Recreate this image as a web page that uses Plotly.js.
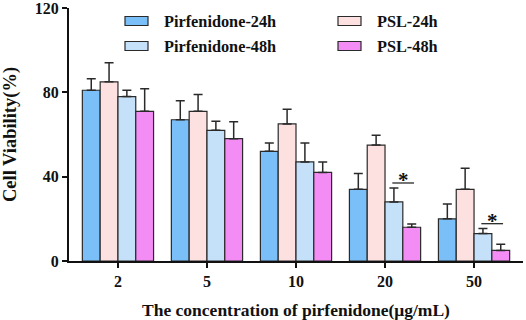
<!DOCTYPE html>
<html>
<head>
<meta charset="utf-8">
<script src="https://cdn.plot.ly/plotly-3.0.1.min.js"></script>
<style>
  body { margin: 0; background: #fff; }
  #chart { width: 526px; height: 320px; }
</style>
</head>
<body>
<div id="chart"></div>
<script>
var concentrations = ['2', '5', '10', '20', '50'];
var seriesNames = ['Pirfenidone-24h', 'PSL-24h', 'Pirfenidone-48h', 'PSL-48h'];
var seriesColors = ['#7abff7', '#fde0e0', '#c4e1f9', '#f38cf4'];

var pirf24 = [81, 67, 52, 34, 20];
var psl24 = [85, 71, 65, 55, 34];
var pirf48 = [78, 62, 47, 28, 13];
var psl48 = [71, 58, 42, 16, 5];

var pirf24Err = [5.5, 9, 4, 7.5, 7];
var psl24Err = [9, 8, 7, 4.7, 10];
var pirf48Err = [3, 4.3, 9, 6.6, 2.4];
var psl48Err = [10.7, 8, 5, 1.6, 3];

// significance marks between Pirfenidone-48h and PSL-48h
var sigCategories = [3, 4];
var sigLevels = [37, 17.7];

var chartDiv = document.getElementById('chart');
var fontFamily = '"Liberation Serif", "Times New Roman", serif';

function drawChart() {
    let values = [pirf24, psl24, pirf48, psl48];
    let errors = [pirf24Err, psl24Err, pirf48Err, psl48Err];
    let plotData = [];
    for (let ii = 0; ii < values.length; ii++) {
        plotData.push({
            x: concentrations,
            y: values[ii],
            name: seriesNames[ii],
            type: 'bar',
            marker: {color: seriesColors[ii], line: {color: '#2a2a2a', width: 1.2}},
            error_y: {
                type: 'data',
                symmetric: false,
                array: errors[ii],
                arrayminus: errors[ii].map(function () { return 0; }),
                color: '#2a2a2a',
                thickness: 1.5,
                width: 4.5
            },
            showlegend: false
        });
    }

    // hand made legend, two columns, wide flat swatches
    let top = 8, bottom = 261;
    let plotW = 454, plotH = bottom - top;
    let shapes = [];
    let annotations = [];
    let swatchX = [125, 338];
    let textX = [162, 375];
    let rowY = [21, 46];
    for (let ii = 0; ii < seriesNames.length; ii++) {
        let col = ii % 2;
        let row = Math.floor(ii / 2);
        shapes.push({
            type: 'rect', xref: 'paper', yref: 'paper',
            x0: (swatchX[col] - 69) / plotW, x1: (swatchX[col] + 23 - 69) / plotW,
            y0: (bottom - rowY[row] + 4.5) / plotH, y1: (bottom - rowY[row] - 4.5) / plotH,
            fillcolor: seriesColors[ii], line: {color: '#2a2a2a', width: 1.2}
        });
        annotations.push({
            xref: 'paper', yref: 'paper',
            x: (textX[col] - 69) / plotW, y: (bottom - rowY[row]) / plotH,
            xanchor: 'left', yanchor: 'middle', showarrow: false,
            text: '<b>' + seriesNames[ii] + '</b>',
            font: {family: fontFamily, size: 16.3, color: '#111'}
        });
    }

    for (let ii = 0; ii < sigCategories.length; ii++) {
        shapes.push({
            type: 'line', xref: 'x', yref: 'y',
            x0: sigCategories[ii] + 0.082, x1: sigCategories[ii] + 0.326,
            y0: sigLevels[ii], y1: sigLevels[ii],
            line: {color: '#2a2a2a', width: 1.3}
        });
        annotations.push({
            xref: 'x', yref: 'y',
            x: sigCategories[ii] + 0.204, y: sigLevels[ii] + 1.5,
            xanchor: 'center', yanchor: 'middle', showarrow: false,
            text: '<b>*</b>',
            font: {family: fontFamily, size: 21, color: '#111'}
        });
    }

    let layout = {
        width: 526,
        height: 320,
        margin: {t: top, r: 3, b: 320 - bottom, l: 69},
        paper_bgcolor: '#fff',
        plot_bgcolor: '#fff',
        barmode: 'group',
        bargap: 0.2,
        bargroupgap: 0,
        font: {family: fontFamily, color: '#111'},
        xaxis: {
            type: 'category',
            range: [-0.55, 4.55],
            showline: true,
            linecolor: '#111',
            linewidth: 2,
            ticks: 'outside',
            ticklen: 5,
            tickwidth: 2,
            tickcolor: '#111',
            tickfont: {family: fontFamily, size: 16, weight: 'bold'},
            title: {
                text: '<b>The concentration of pirfenidone(μg/mL)</b>',
                font: {family: fontFamily, size: 17.5},
                standoff: 15
            },
            showgrid: false,
            zeroline: false
        },
        yaxis: {
            range: [0, 120],
            tickvals: [0, 40, 80, 120],
            ticklabeloverflow: 'allow',
            showline: true,
            linecolor: '#111',
            linewidth: 2,
            ticks: 'outside',
            ticklen: 5,
            tickwidth: 2,
            tickcolor: '#111',
            tickfont: {family: fontFamily, size: 16, weight: 'bold'},
            title: {
                text: '<b>Cell Viability(%)</b>',
                font: {family: fontFamily, size: 18.5},
                standoff: 24
            },
            showgrid: false,
            zeroline: false
        },
        shapes: shapes,
        annotations: annotations
    };
    Plotly.newPlot(chartDiv, plotData, layout, {displayModeBar: false, staticPlot: true});
}

drawChart();
</script>
</body>
</html>
